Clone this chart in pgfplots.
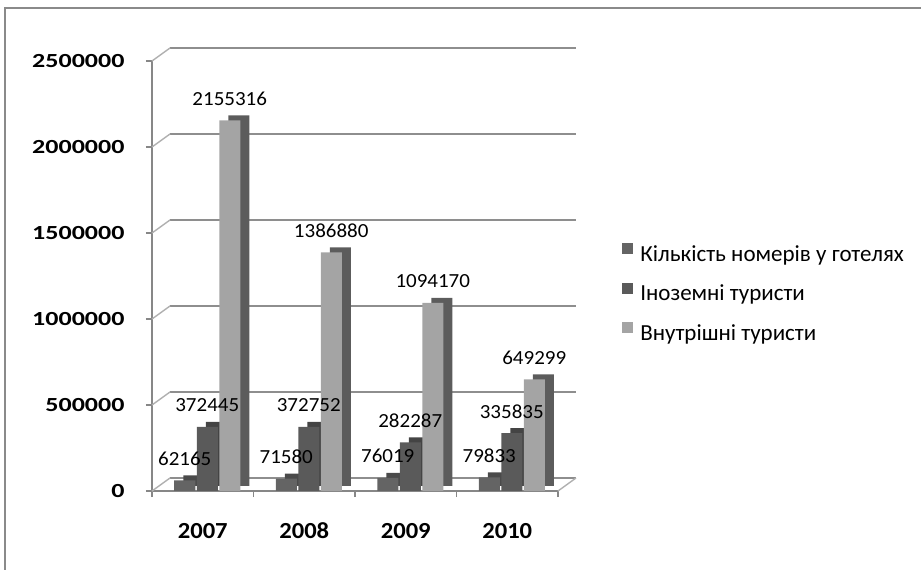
\documentclass[border=0pt]{standalone}
\usepackage{pgfplots}
\pgfplotsset{compat=1.18}
\usepackage{fontspec}
\setmainfont{Carlito}
\newfontfamily\ytickfont{Carlito}[FakeStretch=1.3]
\newfontfamily\xtickfont{Carlito}[FakeStretch=1.07]
\newfontfamily\labelfont{Carlito}[FakeStretch=1.05]
\definecolor{fa}{HTML}{646464}
\definecolor{sa}{HTML}{4A4A4A}
\definecolor{fb}{HTML}{5A5A5A}
\definecolor{sb}{HTML}{444444}
\definecolor{fc}{HTML}{A4A4A4}
\definecolor{sc}{HTML}{5C5C5C}
\definecolor{gridgray}{HTML}{8E8E8E}
\definecolor{axisgray}{HTML}{878787}
\definecolor{framegray}{HTML}{8A8A8A}
\pgfplotsset{
  frontbar/.style={ybar, bar width=21pt, draw=none,
    nodes near coords, point meta=explicit symbolic,
    every node near coord/.append style={font=\labelfont\fontsize{20}{24}\selectfont, anchor=base, yshift=15pt, inner sep=0pt, text=black, xshift=#1},
    legend image code/.code={\fill[##1] (0pt,0pt) rectangle (11pt,11pt);}},
  sidebar/.style={ybar, bar width=21pt, draw=none, yshift=5pt, forget plot},
}
\begin{document}
\begin{tikzpicture}
\useasboundingbox (0,0) rectangle (921pt,570pt);
\draw[framegray, line width=1.3pt] (5pt,0pt) -- (5pt,562pt) -- (925pt,562pt);
\begin{axis}[
  at={(152pt,79pt)}, anchor=south west,
  scale only axis, width=406pt, height=430pt,
  xmin=-0.5, xmax=3.5, ymin=0, ymax=2500000,
  scaled y ticks=false,
  axis lines*=left,
  axis line style={draw=axisgray, line width=2.4pt},
  xtick={-0.5,0.5,1.5,2.5,3.5}, xticklabels={},
  extra x ticks={0,1,2,3},
  extra x tick labels={2007,2008,2009,2010},
  extra x tick style={major tick length=0pt},
  ytick={0,500000,1000000,1500000,2000000,2500000},
  yticklabels={0,500000,1000000,1500000,2000000,2500000},
  tick align=outside, major tick length=6pt,
  every tick/.style={draw=axisgray, line width=1.2pt},
  yticklabel style={font=\ytickfont\bfseries\fontsize{20}{24}\selectfont, xshift=-18pt},
  xticklabel style={font=\xtickfont\bfseries\fontsize{23}{27}\selectfont, anchor=base, yshift=-47pt},
  ymajorgrids=true,
  major grid style={draw=gridgray, line width=2.5pt, xshift=18pt, yshift=13pt},
  clip=false,
  legend style={at={(axis description cs:1.158,0.577)}, anchor=north west,
    draw=none, fill=none, font=\fontsize{23}{27}\selectfont,
    row sep=18pt, inner sep=0pt,
    /tikz/every odd column/.append style={column sep=5pt}},
  legend cell align=left,
]
\pgfplotsinvokeforeach{0,500000,1000000,1500000,2000000,2500000}{
  \draw[gridgray!70, line width=1.4pt] (axis cs:-0.5,#1) -- ++(18pt,13pt);
}
\draw[gridgray!70, line width=1.4pt] (axis cs:3.5,0) -- ++(18pt,13pt);

\addplot[sidebar, bar shift=-9pt, fill=sa] coordinates {(0,62165) (1,71580) (2,76019) (3,79833)};
\addplot[frontbar=-18pt, bar shift=-18pt, fill=fa] coordinates {(0,62165)[62165] (1,71580)[71580] (2,76019)[76019] (3,79833)[79833]};
\addlegendentry{Кількість номерів у готелях}

\addplot[sidebar, bar shift=13.5pt, fill=sb] coordinates {(0,372445) (1,372752) (2,282287) (3,335835)};
\addplot[frontbar=4.5pt, bar shift=4.5pt, fill=fb] coordinates {(0,372445)[372445] (1,372752)[372752] (2,282287)[282287] (3,335835)[335835]};
\addlegendentry{Іноземні туристи}

\addplot[sidebar, bar shift=36pt, fill=sc] coordinates {(0,2155316) (1,1386880) (2,1094170) (3,649299)};
\addplot[frontbar=27pt, bar shift=27pt, fill=fc] coordinates {(0,2155316)[2155316] (1,1386880)[1386880] (2,1094170)[1094170] (3,649299)[649299]};
\addlegendentry{Внутрішні туристи}
\end{axis}
\end{tikzpicture}
\end{document}
